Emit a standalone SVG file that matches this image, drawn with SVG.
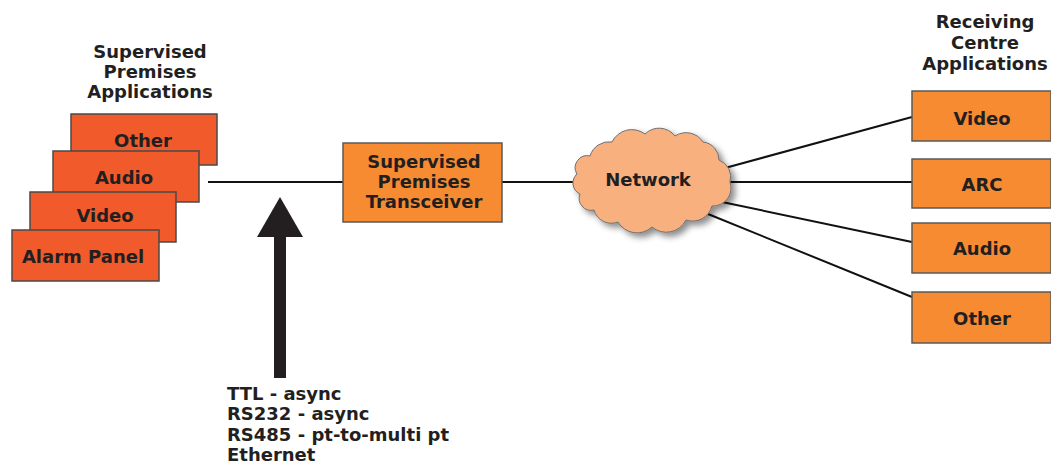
<svg xmlns="http://www.w3.org/2000/svg" width="1051" height="464" viewBox="0 0 1051 464">
<style>
text{font-family:"DejaVu Sans","Liberation Sans",sans-serif;font-weight:bold;font-size:18px;fill:#231F20;text-anchor:middle}
.lbl{text-anchor:start}
.red{fill:#F15A2B;stroke:#4a4a4a;stroke-width:1.5}
.org{fill:#F68B31;stroke:#5a5a5a;stroke-width:1.5}
.con{stroke:#111;stroke-width:2;fill:none}
</style>
<defs>
<filter id="sh" x="-20%" y="-20%" width="150%" height="150%">
<feDropShadow dx="4" dy="4" stdDeviation="3" flood-color="#000" flood-opacity="0.45"/>
</filter>
</defs>
<rect width="1051" height="464" fill="#fff"/>
<g id="connectors">
<line class="con" x1="208" y1="182" x2="343" y2="182"/>
<line class="con" x1="502" y1="182" x2="580" y2="182"/>
<line class="con" x1="725" y1="168" x2="912" y2="117"/>
<line class="con" x1="730" y1="182" x2="912" y2="182"/>
<line class="con" x1="722" y1="202" x2="912" y2="242"/>
<line class="con" x1="708" y1="214" x2="912" y2="297"/>
</g>
<g id="title-left">
<text x="150" y="58">Supervised</text>
<text x="150" y="78">Premises</text>
<text x="150" y="98">Applications</text>
</g>
<g id="title-right">
<text x="985" y="28">Receiving</text>
<text x="985" y="49">Centre</text>
<text x="985" y="70">Applications</text>
</g>
<g id="sp-other"><rect class="red" x="71" y="114" width="146" height="51"/><text x="143" y="147">Other</text></g>
<g id="sp-audio"><rect class="red" x="53" y="151" width="146" height="51"/><text x="124" y="184">Audio</text></g>
<g id="sp-video"><rect class="red" x="30" y="192" width="146" height="50"/><text x="105" y="222">Video</text></g>
<g id="sp-alarm"><rect class="red" x="12" y="230" width="147" height="51"/><text x="83" y="263">Alarm Panel</text></g>
<g id="transceiver"><rect class="org" x="343" y="143" width="159" height="79"/>
<text x="424" y="168">Supervised</text><text x="424" y="188">Premises</text><text x="424" y="208">Transceiver</text></g>
<g id="network">
<path filter="url(#sh)" fill="#F9B07F" stroke="#6e6e6e" stroke-width="1" d="M590,156 A20,20 0 0 1 612,142 A22,22 0 0 1 645,134 A20,20 0 0 1 675,136 A20,20 0 0 1 703,142 A18,18 0 0 1 719,160 A18,18 0 0 1 730,182 A18,18 0 0 1 712,206 A20,20 0 0 1 686,220 A22,22 0 0 1 652,227 A22,22 0 0 1 618,222 A18,18 0 0 1 594,210 A12,12 0 0 1 580,194 A12,12 0 0 1 577,174 A12,12 0 0 1 590,156 Z"/>
<text x="648" y="186">Network</text>
</g>
<g id="rc-video"><rect class="org" x="912" y="91" width="139" height="50"/><text x="982" y="125">Video</text></g>
<g id="rc-arc"><rect class="org" x="912" y="159" width="139" height="49"/><text x="982" y="191">ARC</text></g>
<g id="rc-audio"><rect class="org" x="912" y="223" width="139" height="50"/><text x="982" y="255">Audio</text></g>
<g id="rc-other"><rect class="org" x="912" y="292" width="139" height="51"/><text x="982" y="325">Other</text></g>
<g id="interface-arrow">
<rect x="274" y="236" width="12" height="142" fill="#231F20"/>
<polygon points="280,197 303,237 257,237" fill="#231F20"/>
</g>
<g id="interface-labels">
<text class="lbl" x="227" y="400">TTL - async</text>
<text class="lbl" x="227" y="420">RS232 - async</text>
<text class="lbl" x="227" y="441">RS485 - pt-to-multi pt</text>
<text class="lbl" x="227" y="461">Ethernet</text>
</g>
</svg>
